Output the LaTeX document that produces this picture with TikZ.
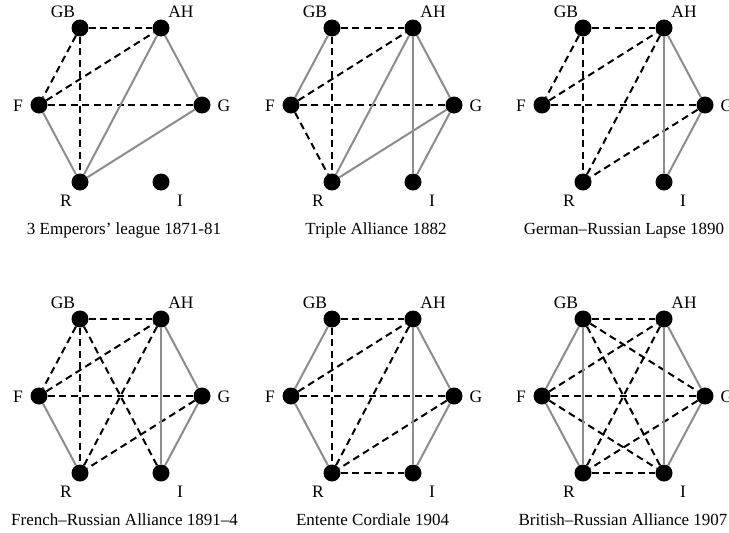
\documentclass[tikz,border=0pt]{standalone}
\usepackage{fontspec}
\setmainfont{Liberation Serif}
\definecolor{allygray}{RGB}{140,140,140}
\tikzset{
  power/.style={circle,fill=black,inner sep=0pt,minimum size=17pt},
  ally/.style={draw=allygray,line width=2pt},
  rival/.style={draw=black,line width=2pt,dash pattern=on 7pt off 4.5pt},
  powerlabel/.style={font=\fontsize{17.5}{18}\selectfont,inner sep=0pt},
  caption/.style={font=\fontsize{17}{18}\selectfont,inner sep=0pt,anchor=base}
}
% #1,#2: position of GB; #3: prefix; #4: caption position (relative);
% #5: caption; #6: hostile pairs; #7: allied pairs
\newcommand\alliancepanel[7]{%
  \begin{scope}[shift={(#1,#2)},name prefix=#3-]
    \node[power] (GB) at (0,0) {};
    \node[power] (AH) at (81,0) {};
    \node[power] (F)  at (-41,77) {};
    \node[power] (G)  at (122,77) {};
    \node[power] (R)  at (0,154) {};
    \node[power] (I)  at (81,154) {};
    \node[powerlabel] (GBl) at (-17,-16) {GB};
    \node[powerlabel] (AHl) at (101,-16) {AH};
    \node[powerlabel] (Fl)  at (-62,78) {F};
    \node[powerlabel] (Gl)  at (144,78) {G};
    \node[powerlabel] (Rl)  at (-14,173) {R};
    \node[powerlabel] (Il)  at (100,173) {I};
    \node[caption] (cap) at (#4) {#5};
    \foreach \a/\b in {#6} \draw[rival] (\a) -- (\b);
    \foreach \a/\b in {#7} \draw[ally] (\a) -- (\b);
  \end{scope}}
\begin{document}
\begin{tikzpicture}[x=1pt,y=-1pt]
\useasboundingbox (0,0) rectangle (729,533);
\fill[white] (0,0) rectangle (729,533);

\alliancepanel{80}{28}{p1}{44,206}{3 Emperors’ league 1871-81}
  {GB/AH, GB/F, F/AH, GB/R, F/G}
  {AH/R, AH/G, G/R, F/R}

\alliancepanel{332}{28}{p2}{44,206}{Triple Alliance 1882}
  {GB/AH, F/AH, GB/R, F/G, F/R}
  {GB/F, AH/R, AH/G, AH/I, G/R, G/I}

\alliancepanel{583}{28}{p3}{41,206}{German–Russian Lapse 1890}
  {GB/AH, GB/F, F/AH, GB/R, F/G, AH/R, G/R}
  {AH/I, AH/G, G/I}

\alliancepanel{80}{319}{p4}{44.5,206}{French–Russian Alliance 1891–4}
  {GB/AH, GB/F, F/AH, GB/R, GB/I, F/G, AH/R, G/R}
  {AH/I, AH/G, G/I, F/R}

\alliancepanel{332}{319}{p5}{40.5,206}{Entente Cordiale 1904}
  {GB/AH, F/AH, GB/R, F/G, AH/R, G/R, R/I}
  {GB/F, F/R, AH/I, AH/G, G/I}

\alliancepanel{583}{319}{p6}{40,206}{British–Russian Alliance 1907}
  {GB/AH, F/AH, GB/G, GB/I, F/G, F/I, AH/R, G/R, R/I}
  {GB/F, GB/R, F/R, AH/I, AH/G, G/I}
\end{tikzpicture}
\end{document}
